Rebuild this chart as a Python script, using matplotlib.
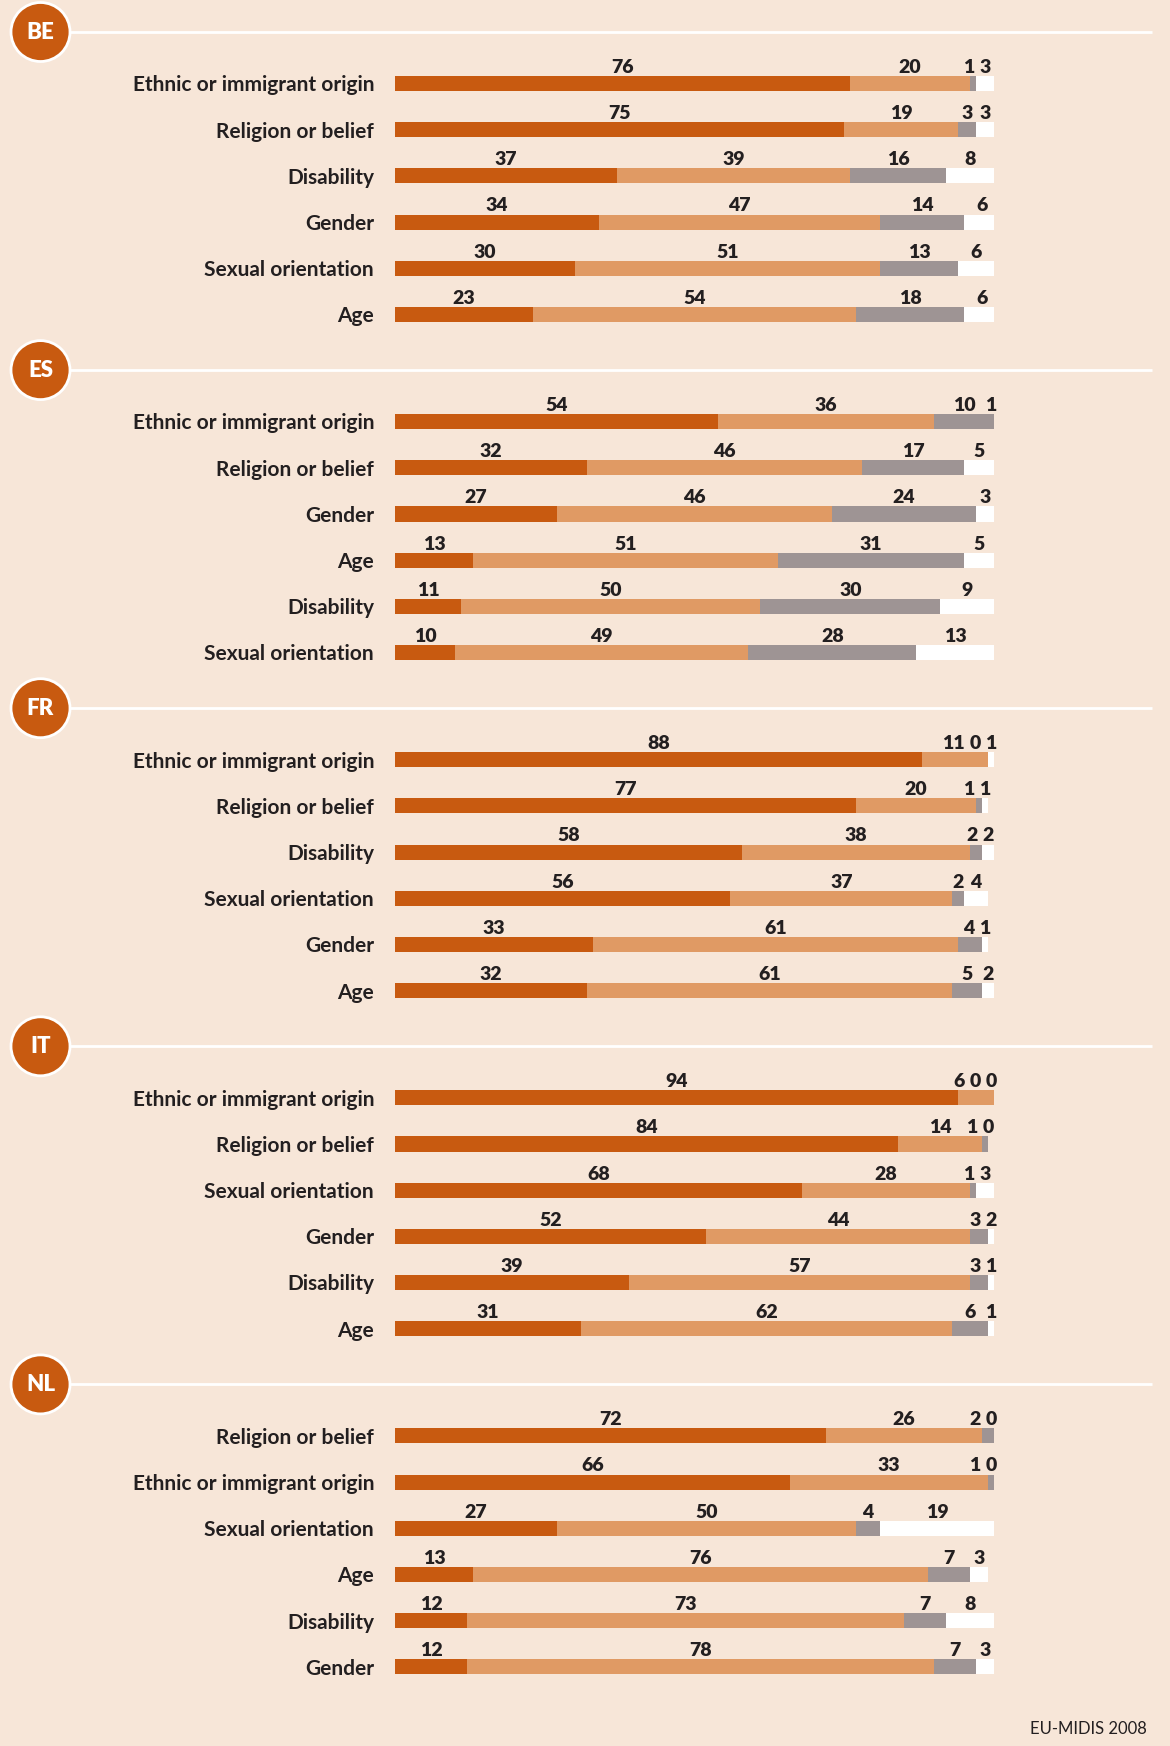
import matplotlib
matplotlib.use("Agg")
import matplotlib.pyplot as plt
from matplotlib.patches import Circle

plt.rcParams['font.family'] = ['Lato', 'DejaVu Sans']

countries = ["BE", "ES", "FR", "IT", "NL"]

labels_be = ["Ethnic or immigrant origin", "Religion or belief", "Disability", "Gender", "Sexual orientation", "Age"]
labels_es = ["Ethnic or immigrant origin", "Religion or belief", "Gender", "Age", "Disability", "Sexual orientation"]
labels_fr = ["Ethnic or immigrant origin", "Religion or belief", "Disability", "Sexual orientation", "Gender", "Age"]
labels_it = ["Ethnic or immigrant origin", "Religion or belief", "Sexual orientation", "Gender", "Disability", "Age"]
labels_nl = ["Religion or belief", "Ethnic or immigrant origin", "Sexual orientation", "Age", "Disability", "Gender"]

# four answer groups per row, in stacking order
vals_be = [[76, 20, 1, 3], [75, 19, 3, 3], [37, 39, 16, 8], [34, 47, 14, 6], [30, 51, 13, 6], [23, 54, 18, 6]]
vals_es = [[54, 36, 10, 1], [32, 46, 17, 5], [27, 46, 24, 3], [13, 51, 31, 5], [11, 50, 30, 9], [10, 49, 28, 13]]
vals_fr = [[88, 11, 0, 1], [77, 20, 1, 1], [58, 38, 2, 2], [56, 37, 2, 4], [33, 61, 4, 1], [32, 61, 5, 2]]
vals_it = [[94, 6, 0, 0], [84, 14, 1, 0], [68, 28, 1, 3], [52, 44, 3, 2], [39, 57, 3, 1], [31, 62, 6, 1]]
vals_nl = [[72, 26, 2, 0], [66, 33, 1, 0], [27, 50, 4, 19], [13, 76, 7, 3], [12, 73, 7, 8], [12, 78, 7, 3]]

all_labels = [labels_be, labels_es, labels_fr, labels_it, labels_nl]
all_vals = [vals_be, vals_es, vals_fr, vals_it, vals_nl]

bg = "#F7E6D8"
seg_colors = ["#C85A10", "#E09A64", "#9E9494", "#FFFFFF"]
dark = "#231F20"
badge = "#C85A10"

W, H = 1170, 1746
fig = plt.figure(figsize=(W / 100, H / 100), dpi=100)
fig.patch.set_facecolor(bg)

# pixel-space overlay for the section headers
deco = fig.add_axes([0, 0, 1, 1])
deco.set_xlim(0, W)
deco.set_ylim(H, 0)
deco.axis("off")

row_h = 46.2
bar_left, bar_w = 395, 599

for k, code in enumerate(countries):
    hy = 31.5 + k * 338.1
    deco.plot([70, 1152], [hy, hy], color="white", lw=2, solid_capstyle="butt")
    deco.add_patch(Circle((40.5, hy + 0.5), 29.5, facecolor=badge, edgecolor="white", lw=2, zorder=3))
    deco.text(40.5, hy + 1, code, color="white", fontsize=16, fontweight="heavy",
              ha="center", va="center", zorder=4)

    top = hy + 52 - row_h / 2
    ax = fig.add_axes([bar_left / W, 1 - (top + 6 * row_h) / H, bar_w / W, 6 * row_h / H])
    ax.set_xlim(0, 100)
    ax.set_ylim(5.5, -0.5)
    ax.axis("off")

    labels = all_labels[k]
    vals = all_vals[k]
    for i, row in enumerate(vals):
        left = 0
        centers = []
        for j, v in enumerate(row):
            ax.barh(i, v, left=left, height=0.325, color=seg_colors[j], linewidth=0)
            centers.append(left + v / 2)
            left += v

        # nudge crowded value labels apart from the right end
        widths = [1.6 * len(str(v)) for v in row]
        pos = list(centers)
        pos[-1] = min(pos[-1], 100 - widths[-1] / 2 + 0.3)
        for j in range(len(row) - 2, -1, -1):
            gap = (widths[j] + widths[j + 1]) / 2 + 1.1
            pos[j] = min(pos[j], pos[j + 1] - gap)
        for j, v in enumerate(row):
            ax.text(pos[j], i - 0.23, str(v), ha="center", va="baseline",
                    fontsize=14, fontweight="heavy", color=dark)

        ax.text(-3.5, i + 0.17, labels[i], ha="right", va="baseline",
                fontsize=15, fontweight="bold", color=dark)

deco.text(1147, 1734, "EU-MIDIS 2008", ha="right", va="baseline", fontsize=12, color=dark)

fig.savefig("out.png", dpi=100, facecolor=bg)
